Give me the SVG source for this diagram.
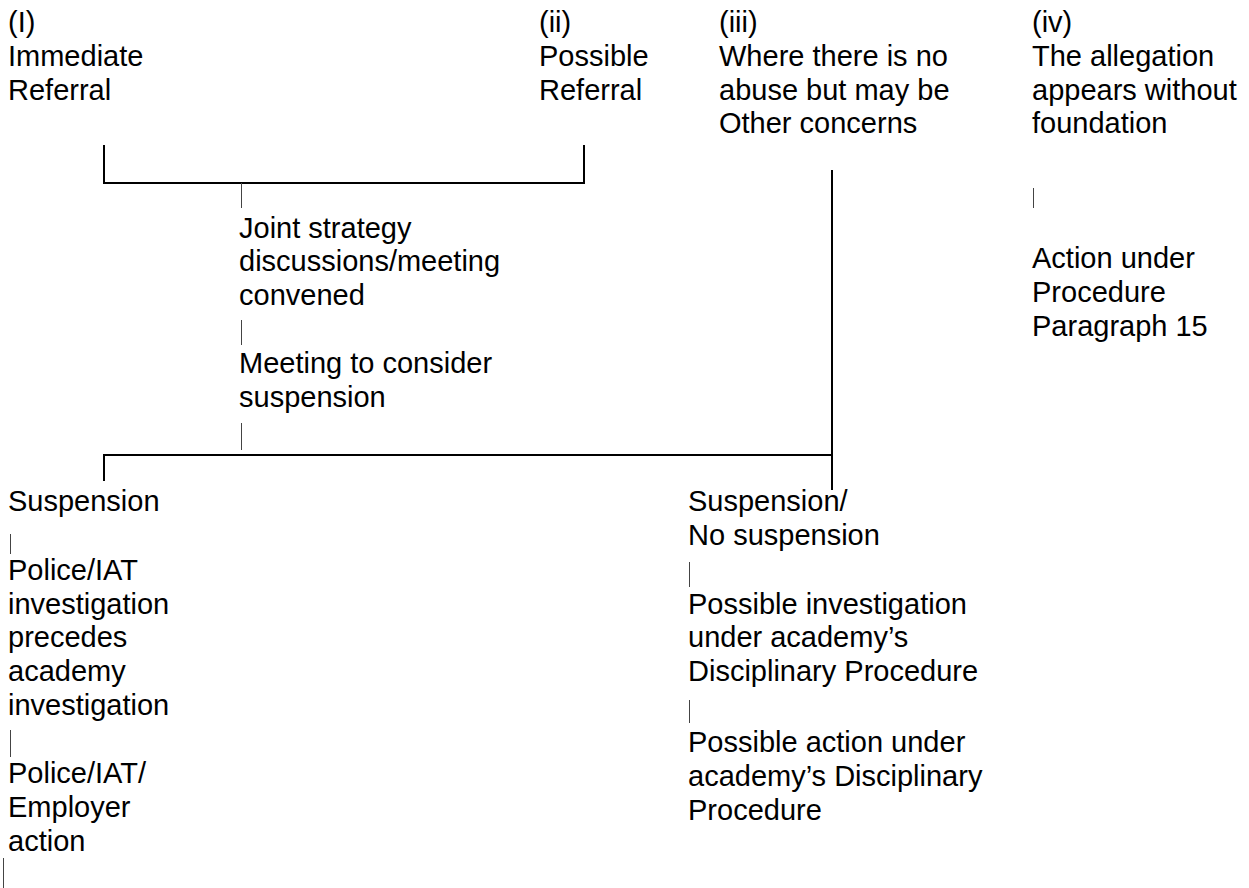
<svg xmlns="http://www.w3.org/2000/svg" width="1249" height="888" viewBox="0 0 1249 888">
<style>
text{font-family:"Liberation Sans",Arial,sans-serif;font-size:29px;fill:#000}
.ln{stroke:#000;stroke-width:2;fill:none}
.bar{stroke:#444;stroke-width:1;fill:none}
</style>
<rect width="1249" height="888" fill="#fff"/>
<g id="connectors">
<path class="ln" d="M104,145V183H584V145"/>
<path class="ln" d="M104,481V455H832"/>
<path class="ln" d="M832,170V490"/>
<line class="bar" x1="241.5" y1="183" x2="241.5" y2="208"/>
<line class="bar" x1="241.5" y1="320" x2="241.5" y2="345"/>
<line class="bar" x1="241.5" y1="423" x2="241.5" y2="450"/>
<line class="bar" x1="1033.5" y1="188" x2="1033.5" y2="208"/>
<line class="bar" x1="10.5" y1="534" x2="10.5" y2="554"/>
<line class="bar" x1="10.5" y1="730" x2="10.5" y2="757"/>
<line class="bar" x1="3.5" y1="858" x2="3.5" y2="888"/>
<line class="bar" x1="689.5" y1="562" x2="689.5" y2="587"/>
<line class="bar" x1="689.5" y1="700" x2="689.5" y2="723"/>
</g>
<g id="immediate-referral">
<text x="8" y="32">(I)</text>
<text x="8" y="66">Immediate</text>
<text x="8" y="99.5">Referral</text>
</g>
<g id="possible-referral">
<text x="539" y="32">(ii)</text>
<text x="539" y="66">Possible</text>
<text x="539" y="99.5">Referral</text>
</g>
<g id="no-abuse">
<text x="719" y="32">(iii)</text>
<text x="719" y="66">Where there is no</text>
<text x="719" y="99.5">abuse but may be</text>
<text x="719" y="133">Other concerns</text>
</g>
<g id="without-foundation">
<text x="1032" y="32">(iv)</text>
<text x="1032" y="66">The allegation</text>
<text x="1032" y="99.5">appears without</text>
<text x="1032" y="133">foundation</text>
</g>
<g id="action-para15">
<text x="1032" y="268">Action under</text>
<text x="1032" y="302">Procedure</text>
<text x="1032" y="336">Paragraph 15</text>
</g>
<g id="joint-strategy">
<text x="239" y="237.5">Joint strategy</text>
<text x="239" y="271">discussions/meeting</text>
<text x="239" y="304.5">convened</text>
</g>
<g id="meeting-suspension">
<text x="239" y="373">Meeting to consider</text>
<text x="239" y="407">suspension</text>
</g>
<g id="suspension">
<text x="8" y="511">Suspension</text>
</g>
<g id="police-investigation">
<text x="8" y="580">Police/IAT</text>
<text x="8" y="613.5">investigation</text>
<text x="8" y="647">precedes</text>
<text x="8" y="681">academy</text>
<text x="8" y="714.5">investigation</text>
</g>
<g id="police-action">
<text x="8" y="783">Police/IAT/</text>
<text x="8" y="817">Employer</text>
<text x="8" y="850.5">action</text>
</g>
<g id="suspension-no">
<text x="688" y="511">Suspension/</text>
<text x="688" y="544.5">No suspension</text>
</g>
<g id="possible-investigation">
<text x="688" y="613.5">Possible investigation</text>
<text x="688" y="647">under academy’s</text>
<text x="688" y="681">Disciplinary Procedure</text>
</g>
<g id="possible-action">
<text x="688" y="752">Possible action under</text>
<text x="688" y="786">academy’s Disciplinary</text>
<text x="688" y="819.5">Procedure</text>
</g>
</svg>
